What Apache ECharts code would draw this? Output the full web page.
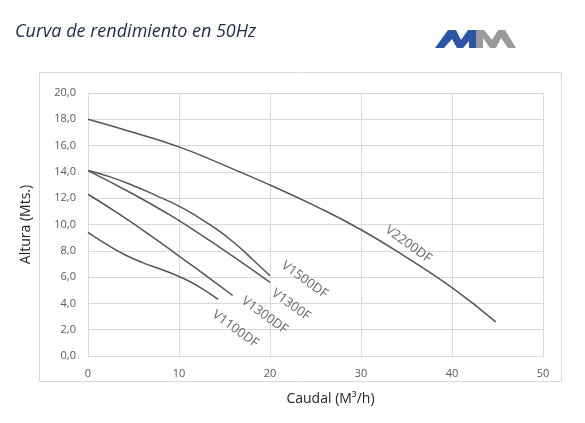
<!DOCTYPE html>
<html>
<head>
<meta charset="utf-8">
<script src="https://cdn.jsdelivr.net/npm/echarts@6/dist/echarts.min.js"></script>
<style>
  html, body { margin: 0; padding: 0; background: #fff; }
  #chart { width: 585px; height: 423px; }
</style>
</head>
<body>
<div id="chart"></div>
<script>
// curvas de rendimiento [caudal, altura]
const v2200 = [[0, 18], [5, 17.0], [10, 15.9], [15, 14.5], [20, 13.0], [25, 11.4], [30, 9.6], [35, 7.5], [40, 5.2], [44.8, 2.6]];
const v1500 = [[0, 14.1], [2.5, 13.6], [5, 12.95], [7.5, 12.2], [10, 11.4], [12, 10.6], [14, 9.7], [16, 8.65], [18, 7.4], [20, 6.1]];
const v1300a = [[0, 14.1], [5, 12.3], [8.8, 10.8], [12, 9.4], [16.1, 7.5], [20, 5.6]];
const v1300b = [[0, 12.3], [3.4, 10.8], [7, 9.1], [10, 7.6], [13, 6.1], [15.9, 4.6]];
const v1100 = [[0, 9.4], [2, 8.5], [4, 7.72], [6, 7.1], [8, 6.6], [10, 6.05], [12, 5.35], [14.3, 4.3]];

const seriesNames = ['V2200DF', 'V1500DF', 'V1300F', 'V1300DF', 'V1100DF'];
// donde va cada etiqueta (caudal, altura)
const labelPos = [[35.2, 8.5], [23.8, 5.8], [22.3, 3.9], [19.4, 3.1], [16.2, 2.05]];

const xTicks = [0, 10, 20, 30, 40, 50];
const yTicks = [0, 2, 4, 6, 8, 10, 12, 14, 16, 18, 20];

const chart = echarts.init(document.getElementById('chart'));

const lineColor = '#555555';
const gridColor = '#d9d9d9';
const font = 'Open Sans';

const curves = [v2200, v1500, v1300a, v1300b, v1100].map((d, i) => ({
  name: seriesNames[i],
  type: 'line',
  smooth: 0.5,
  symbol: 'none',
  lineStyle: { color: lineColor, width: 1.5 },
  data: d
}));

chart.setOption({
  animation: false,
  title: {
    text: 'Curva de rendimiento en 50Hz',
    left: 10,
    top: 18,
    textStyle: { fontFamily: font, fontStyle: 'italic', fontWeight: 500, fontSize: 18, color: '#1e2a4a' }
  },
  graphic: [
    {
      type: 'rect', z: -1,
      shape: { x: 39.5, y: 72.5, width: 522, height: 309 },
      style: { fill: 'none', stroke: gridColor, lineWidth: 1 }
    },
    {
      // logo, M azul
      type: 'polygon',
      shape: { points: [[435, 48], [448, 30], [456, 30], [461, 40], [468, 30], [476, 30], [476, 48], [469, 48], [469, 41], [463, 48], [457, 48], [452, 39], [444, 48]] },
      style: { fill: '#2b55a5' }
    },
    {
      // logo, M gris
      type: 'polygon',
      shape: { points: [[476, 48], [476, 30], [484, 30], [492, 40], [498, 30], [505, 30], [516, 48], [508, 48], [501, 38], [496, 48], [490, 48], [483, 38], [483, 48]] },
      style: { fill: '#9a9a9a' }
    }
  ],
  grid: { left: 88, right: 42, top: 93, bottom: 67 },
  xAxis: {
    type: 'value',
    min: xTicks[0],
    max: xTicks[xTicks.length - 1],
    interval: 10,
    name: 'Caudal (M³/h)',
    nameLocation: 'middle',
    nameGap: 36,
    nameTextStyle: { fontFamily: font, fontSize: 14, color: '#262626', padding: [0, 0, 0, 30] },
    axisLine: { lineStyle: { color: gridColor } },
    axisTick: { show: false },
    axisLabel: { fontFamily: font, fontSize: 11, color: '#595959', margin: 12 },
    splitLine: { lineStyle: { color: gridColor } }
  },
  yAxis: {
    type: 'value',
    min: yTicks[0],
    max: yTicks[yTicks.length - 1],
    interval: 2,
    name: 'Altura (Mts.)',
    nameLocation: 'middle',
    nameGap: 55,
    nameTextStyle: { fontFamily: font, fontSize: 14, color: '#262626' },
    axisLine: { show: false },
    axisTick: { show: false },
    axisLabel: {
      fontFamily: font, fontSize: 11, color: '#595959', margin: 12,
      formatter: v => v.toFixed(1).replace('.', ',')
    },
    splitLine: { lineStyle: { color: gridColor } }
  },
  series: curves.concat([{
    type: 'scatter',
    symbolSize: 0,
    silent: true,
    label: {
      show: true,
      position: 'inside',
      rotate: -36,
      formatter: p => p.name,
      fontFamily: font,
      fontSize: 13,
      color: '#404040'
    },
    data: labelPos.map((p, i) => ({ name: seriesNames[i], value: p }))
  }])
});
</script>
</body>
</html>
